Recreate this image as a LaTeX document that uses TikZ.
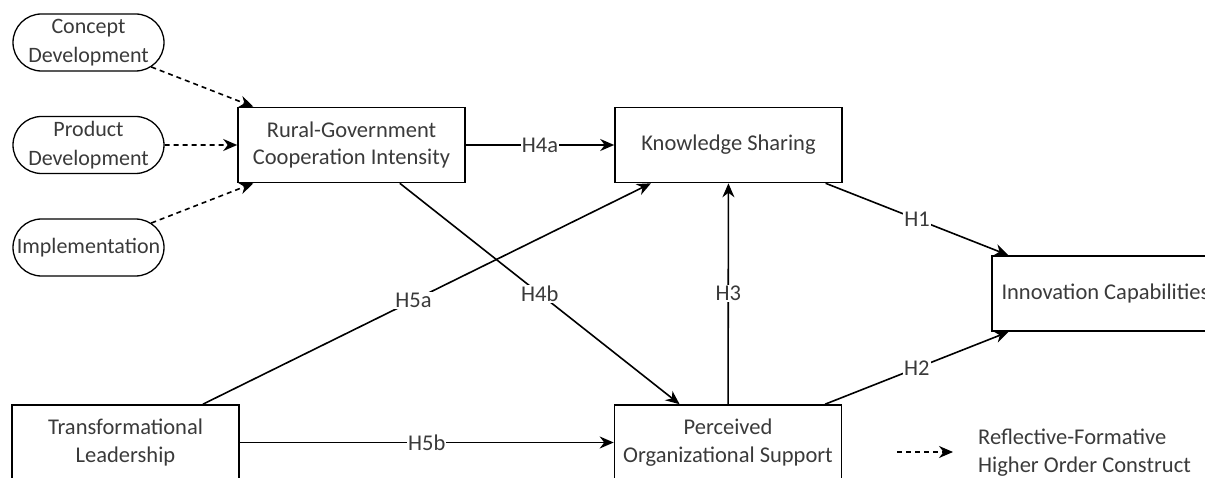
\documentclass[tikz,border=0pt]{standalone}
\usepackage{fontspec}
\setmainfont{Carlito}
\newfontfamily\capfont{Liberation Serif}
\usetikzlibrary{arrows.meta,shapes.misc}
\definecolor{txt}{HTML}{3A3A3A}
\begin{document}
\begin{tikzpicture}[x=1pt,y=-1pt,
  lbl/.style={font=\fontsize{22.5}{27.5}\selectfont, text=txt},
  box/.style={lbl, draw, line width=1.6pt, minimum width=227pt, minimum height=75pt, align=center, inner sep=2pt},
  oval/.style={lbl, draw, rounded rectangle, line width=1.3pt, minimum width=151pt, minimum height=57pt, align=center, inner sep=0pt, font=\fontsize{22}{29}\selectfont},
  link/.style={line width=1.6pt, -{Stealth[length=14pt,width=12pt]}},
  dlink/.style={link, dash pattern=on 5pt off 4pt},
  hlabel/.style={lbl, fill=white, inner sep=1pt}
]
\useasboundingbox (0,0) rectangle (1205,478);

% caption fragment cut at the top
\node[anchor=base, font=\capfont\bfseries\fontsize{26}{30}\selectfont, inner sep=0pt, outer sep=0pt] (cap) at (465,-5.5) {g};

% ovals
\node[oval] (concept) at (88.5,42.5) {Concept\\Development};
\node[oval] (product) at (88.5,145) {Product\\Development};
\node[oval] (impl) at (88.5,247.5) {Implementation};

% boxes
\node[box] (rural) at (351.5,145) {Rural-Government\\Cooperation Intensity};
\node[box] (know) at (728.5,145) {Knowledge Sharing};
\node[box] (innov) at (1105.5,293.5) {Innovation Capabilities};
\node[box] (trans) at (125.5,442.5) {Transformational\\Leadership};
\node[box] (perc) at (728,442.5) {Perceived\\Organizational Support};

% dashed reflective-formative arrows
\draw[dlink] (concept) -- (rural);
\draw[dlink] (product) -- (rural);
\draw[dlink] (impl) -- (rural);

% hypotheses
\draw[link] (rural) -- node[hlabel]{H4a} (know);
\draw[link] (rural) -- node[hlabel]{H4b} (perc);
\draw[link] (trans) -- node[hlabel, pos=0.47]{H5a} (know);
\draw[link] (trans) -- node[hlabel]{H5b} (perc);
\draw[link] (perc) -- node[hlabel]{H3} (know);
\draw[link] (know) -- node[hlabel]{H1} (innov);
\draw[link] (perc) -- node[hlabel]{H2} (innov);

% legend
\coordinate (legA) at (897,452);
\coordinate (legB) at (953,452);
\draw[dlink] (legA) -- (legB);
\node[lbl, anchor=west, align=left, inner sep=0pt] (legtext) at (978,452.5) {Reflective-Formative\\Higher Order Construct};
\end{tikzpicture}
\end{document}
